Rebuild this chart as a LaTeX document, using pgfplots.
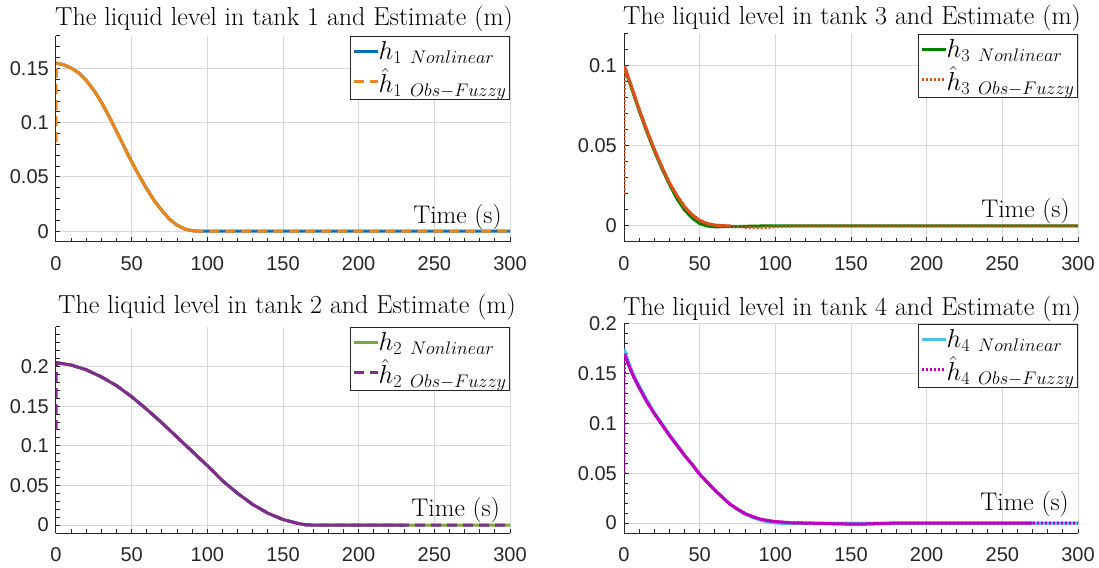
\RequirePackage{fix-cm}
\documentclass[border=0pt]{standalone}
\usepackage{fontspec}
\newfontfamily\helv{Liberation Sans}
\usepackage{pgfplots}
\pgfplotsset{compat=1.18}
\definecolor{mblue}{rgb}{0,0.447,0.741}
\definecolor{morange}{RGB}{232,135,28}
\definecolor{mred}{rgb}{0.85,0.325,0.098}
\definecolor{mgreen}{rgb}{0.466,0.674,0.188}
\definecolor{mpurple}{rgb}{0.494,0.184,0.556}
\definecolor{dgreen}{rgb}{0,0.5,0}
\definecolor{lblue}{rgb}{0.301,0.745,0.933}
\definecolor{mmag}{rgb}{0.75,0,0.75}
\definecolor{gridgray}{RGB}{216,216,216}
\definecolor{axgray}{RGB}{38,38,38}
\pgfplotsset{
  tank/.style={
    scale only axis, width=454pt, height=206pt,
    xmin=0, xmax=300, ymin=-0.01,
    xtick={0,50,...,300}, minor xtick={0,10,...,300},
    axis x line*=bottom, axis y line*=left,
    tick align=inside, major tick length=4.5pt, minor tick length=4pt,
    every tick/.style={line width=1pt, color=axgray},
    axis line style={line width=1pt, color=axgray},
    grid=major, major grid style={line width=1pt, color=gridgray},
    tick label style={font=\helv\fontsize{20}{24}\selectfont, color=axgray},
    /pgf/number format/assume math mode=true,
    /pgf/number format/fixed, /pgf/number format/precision=2,
    scaled y ticks=false,
    xticklabel style={inner sep=0pt, yshift=-14pt},
    yticklabel style={inner sep=0pt, xshift=-7pt},
    title style={at={(rel axis cs:0,1)}, anchor=base west, yshift=4pt, xshift=-1pt, inner sep=0pt, font=\fontsize{26}{30}\selectfont},
    xlabel style={anchor=base east, inner sep=0pt, font=\fontsize{25.5}{30}\selectfont},
    xlabel={Time (s)},
    legend style={at={(rel axis cs:1,1)}, anchor=north east, draw=axgray, line width=1pt, fill=white,
      font=\fontsize{26}{31}\selectfont, inner xsep=2pt, inner ysep=4pt, row sep=5pt,
      nodes={inner sep=1pt},
      /tikz/every odd column/.append style={column sep=-1.5pt}},
    legend cell align=left,
    legend image code/.code={\draw[#1, line width=3pt] (0pt,0pt) -- (24pt,0pt);},
    every axis plot/.append style={line width=3pt},
  }
}
\begin{document}
\begin{tikzpicture}
\path[use as bounding box] (0,0) rectangle (1099pt,567pt);
% Tank 1
\begin{axis}[tank, at={(56pt,325pt)}, anchor=south west, ymax=0.18,
  ytick={0,0.05,0.1,0.15}, minor ytick={-0.01,0,...,0.18},
  title={The liquid level in tank 1 and Estimate (m)},
  xlabel style={at={(rel axis cs:0.982,0.092)}}]
\addplot[color=mblue] coordinates {(0,0.155)(5,0.1535)(10,0.1505)(15,0.146)(20,0.139)(25,0.130)(30,0.119)(35,0.106)(40,0.092)(45,0.078)(50,0.064)(55,0.051)(60,0.039)(65,0.028)(70,0.019)(75,0.011)(80,0.0055)(85,0.002)(90,0.0004)(94,0)(300,0)};
\addlegendentry{$h_{1}\ _{Nonlinear}$}
\addplot[color=morange, forget plot] coordinates {(0.2,0.155)(5,0.1535)(10,0.1505)(15,0.146)(20,0.139)(25,0.130)(30,0.119)(35,0.106)(40,0.092)(45,0.078)(50,0.064)(55,0.051)(60,0.039)(65,0.028)(70,0.019)(75,0.011)(80,0.0055)(85,0.002)(90,0.0004)(94,0)};
\addplot[color=morange, dash pattern=on 10pt off 6pt] coordinates {(0,0.082)(0.2,0.155)(5,0.1535)(10,0.1505)(15,0.146)(20,0.139)(25,0.130)(30,0.119)(35,0.106)(40,0.092)(45,0.078)(50,0.064)(55,0.051)(60,0.039)(65,0.028)(70,0.019)(75,0.011)(80,0.0055)(85,0.002)(90,0.0004)(94,0)(300,0)};
\addlegendentry{$\hat{h}_{1}\ _{Obs-Fuzzy}$}
\end{axis}
% Tank 3
\begin{axis}[tank, at={(624pt,325pt)}, anchor=south west, height=208pt, ymax=0.12,
  ytick={0,0.05,0.1}, minor ytick={-0.01,0,...,0.12},
  title={The liquid level in tank 3 and Estimate (m)}, title style={yshift=-1pt},
  xlabel style={at={(rel axis cs:0.982,0.12)}}]
\addplot[color=dgreen] coordinates {(0,0.100)(5,0.086)(10,0.072)(15,0.059)(20,0.047)(25,0.036)(30,0.026)(35,0.017)(40,0.010)(45,0.005)(50,0.0015)(55,0)(60,-0.0005)(70,-0.0004)(80,-0.0002)(90,0)(300,0)};
\addlegendentry{$h_{3}\ _{Nonlinear}$}
\addplot[color=mred, forget plot] coordinates {(0.2,0.1)(5,0.087)(10,0.073)(15,0.060)(20,0.048)(25,0.037)(30,0.027)(35,0.019)(40,0.012)(45,0.007)(50,0.0035)(55,0.0015)(60,0.0005)(70,0)};
\addplot[color=mred, dash pattern=on 2pt off 2pt] coordinates {(0,0.02)(0.2,0.1)(5,0.087)(10,0.073)(15,0.060)(20,0.048)(25,0.037)(30,0.027)(35,0.019)(40,0.012)(45,0.007)(50,0.0035)(55,0.0015)(60,0.0005)(70,0)(80,-0.0008)(90,-0.0012)(100,-0.0005)(110,0)(300,0)};
\addlegendentry{$\hat{h}_{3}\ _{Obs-Fuzzy}$}
\end{axis}
% Tank 2
\begin{axis}[tank, at={(56pt,34pt)}, anchor=south west, ymax=0.25,
  ytick={0,0.05,0.1,0.15,0.2}, minor ytick={-0.01,0,...,0.25},
  title={The liquid level in tank 2 and Estimate (m)}, title style={yshift=3pt, xshift=3pt},
  xlabel style={at={(rel axis cs:0.978,0.08)}}]
\addplot[color=mgreen] coordinates {(0,0.205)(10,0.202)(20,0.196)(30,0.187)(40,0.176)(50,0.162)(60,0.146)(70,0.129)(80,0.111)(90,0.093)(100,0.075)(110,0.056)(120,0.040)(130,0.026)(140,0.015)(150,0.007)(160,0.002)(165,0.0003)(170,0)(300,0)};
\addlegendentry{$h_{2}\ _{Nonlinear}$}
\addplot[color=mpurple, forget plot] coordinates {(0.2,0.205)(10,0.202)(20,0.196)(30,0.187)(40,0.176)(50,0.162)(60,0.146)(70,0.129)(80,0.111)(90,0.093)(100,0.075)(110,0.056)(120,0.040)(130,0.026)(140,0.015)(150,0.007)(160,0.002)(165,0.0003)(170,0)(230,0)};
\addplot[color=mpurple, dash pattern=on 10pt off 6pt] coordinates {(0,0.12)(0.2,0.205)(10,0.202)(20,0.196)(30,0.187)(40,0.176)(50,0.162)(60,0.146)(70,0.129)(80,0.111)(90,0.093)(100,0.075)(110,0.056)(120,0.040)(130,0.026)(140,0.015)(150,0.007)(160,0.002)(165,0.0003)(170,0)(300,0)};
\addlegendentry{$\hat{h}_{2}\ _{Obs-Fuzzy}$}
\end{axis}
% Tank 4
\begin{axis}[tank, at={(624pt,34pt)}, anchor=south west, height=209pt, ymax=0.2,
  ytick={0,0.05,0.1,0.15,0.2}, minor ytick={-0.01,0,...,0.2},
  title={The liquid level in tank 4 and Estimate (m)}, title style={yshift=-2pt},
  xlabel style={at={(rel axis cs:0.98,0.11)}}]
\addplot[color=lblue] coordinates {(0,0.175)(3,0.162)(6,0.150)(10,0.138)(15,0.124)(20,0.111)(25,0.100)(30,0.089)(35,0.079)(40,0.068)(45,0.059)(50,0.049)(55,0.041)(60,0.033)(65,0.026)(70,0.019)(75,0.0135)(80,0.009)(85,0.0055)(90,0.003)(95,0.001)(100,0)(110,-0.0006)(120,-0.0002)(130,0)(300,0)};
\addlegendentry{$h_{4}\ _{Nonlinear}$}
\addplot[color=mmag, forget plot] coordinates {(0.2,0.17)(3,0.159)(6,0.148)(10,0.136)(15,0.122)(20,0.110)(25,0.099)(30,0.088)(35,0.078)(40,0.068)(45,0.059)(50,0.049)(55,0.041)(60,0.033)(65,0.026)(70,0.019)(75,0.014)(80,0.0095)(85,0.0065)(90,0.004)(95,0.0025)(100,0.0015)(110,0.0003)(120,0)(140,-0.0008)(155,-0.0012)(170,-0.0005)(180,0)(270,0)};
\addplot[color=mmag, dash pattern=on 2pt off 2pt] coordinates {(0,0.05)(0.2,0.17)(3,0.159)(6,0.148)(10,0.136)(15,0.122)(20,0.110)(25,0.099)(30,0.088)(35,0.078)(40,0.068)(45,0.059)(50,0.049)(55,0.041)(60,0.033)(65,0.026)(70,0.019)(75,0.014)(80,0.0095)(85,0.0065)(90,0.004)(95,0.0025)(100,0.0015)(110,0.0003)(120,0)(140,-0.0008)(155,-0.0012)(170,-0.0005)(180,0)(300,0)};
\addlegendentry{$\hat{h}_{4}\ _{Obs-Fuzzy}$}
\end{axis}
\end{tikzpicture}
\end{document}
